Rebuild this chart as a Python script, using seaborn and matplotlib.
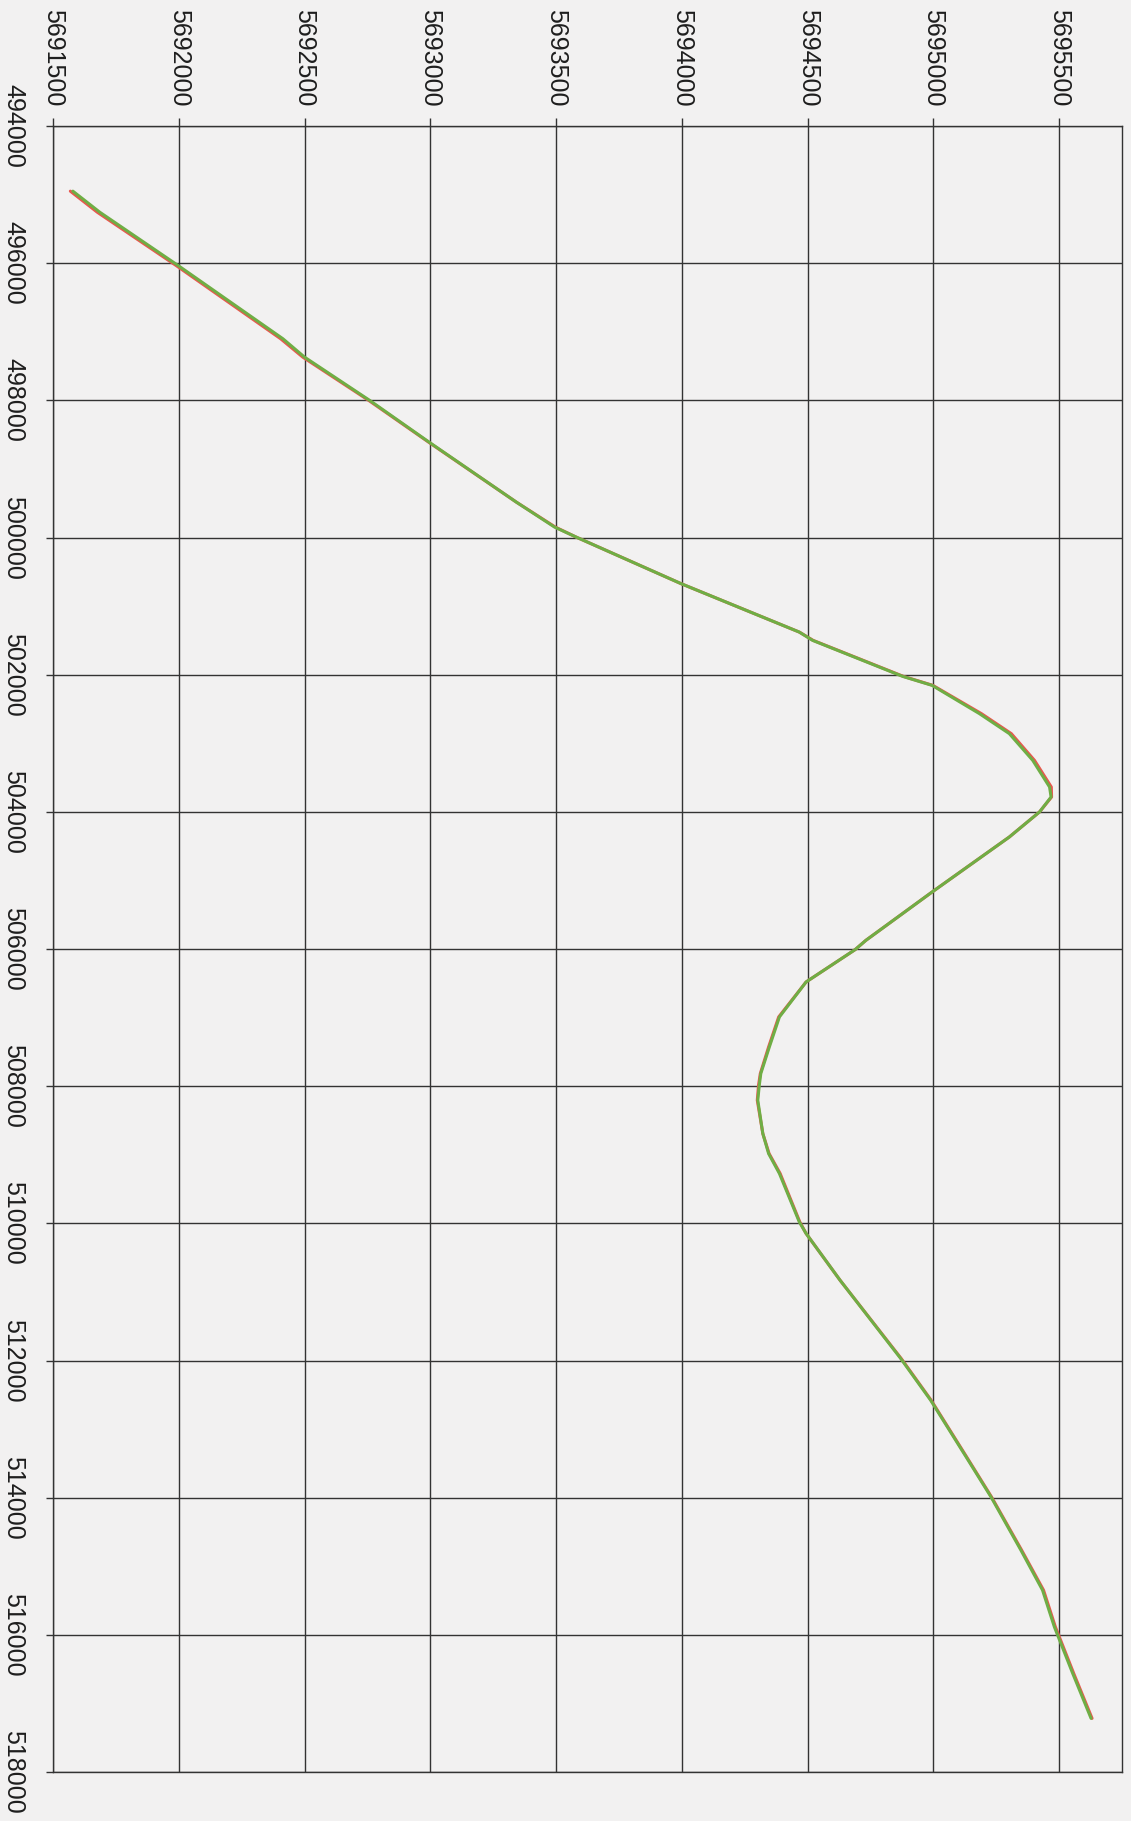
import pandas as pd
import matplotlib
matplotlib.use('Agg')
import matplotlib.pyplot as plt
import seaborn as sns

# track points: easting runs down the page, northing across
easting_green = [494950, 495257, 496033, 497102, 497370, 498001, 498609, 499484, 499848, 499994,
                 500673, 501379, 501500, 502025, 502156, 502568, 502860, 503249, 503638, 503784,
                 504002, 504367, 505169, 505873, 506009, 506481, 506991, 507428, 507816, 507986,
                 508205, 508691, 508983, 509274, 509979, 510148, 510829, 511970, 512578, 513404,
                 513988, 514765, 515348, 515883, 516562, 517218]
northing_green = [5691579, 5691686, 5691997, 5692414, 5692500, 5692759, 5692995, 5693342, 5693494, 5693580,
                  5693997, 5694467, 5694520, 5694878, 5694995, 5695183, 5695302, 5695395, 5695462, 5695468,
                  5695422, 5695302, 5694995, 5694732, 5694689, 5694494, 5694388, 5694348, 5694314, 5694308,
                  5694302, 5694322, 5694345, 5694388, 5694467, 5694494, 5694629, 5694870, 5694989, 5695130,
                  5695229, 5695348, 5695434, 5695481, 5695554, 5695627]

easting_red = easting_green
northing_red = [5691569, 5691676, 5691989, 5692405, 5692493, 5692755, 5692993, 5693342, 5693497, 5693580,
                5693997, 5694467, 5694522, 5694881, 5694998, 5695191, 5695310, 5695402, 5695469, 5695470,
                5695422, 5695302, 5694995, 5694732, 5694689, 5694494, 5694385, 5694345, 5694312, 5694305,
                5694300, 5694322, 5694347, 5694391, 5694469, 5694494, 5694629, 5694872, 5694991, 5695132,
                5695231, 5695351, 5695438, 5695485, 5695558, 5695631]

x_ticks = [5691500, 5692000, 5692500, 5693000, 5693500, 5694000, 5694500, 5695000, 5695500]
y_ticks = [494000, 496000, 498000, 500000, 502000, 504000, 506000, 508000, 510000, 512000,
           514000, 516000, 518000]

df = pd.concat([
    pd.DataFrame({'northing': northing_red, 'easting': easting_red, 'track': 'red'}),
    pd.DataFrame({'northing': northing_green, 'easting': easting_green, 'track': 'green'}),
])

sns.set_theme(style='ticks')
plt.rcParams['font.family'] = ['Liberation Sans', 'DejaVu Sans']

bg = '#f2f1f1'
fig = plt.figure(figsize=(11.31, 18.21), dpi=100, facecolor=bg)
ax = fig.add_axes([53 / 1131, 1 - 1772 / 1821, 1069 / 1131, 1646 / 1821])
ax.set_facecolor(bg)

sns.lineplot(data=df, x='northing', y='easting', hue='track', sort=False, estimator=None,
             palette={'red': '#e8574f', 'green': '#6fae45'}, linewidth=2.2, legend=False, ax=ax)

ax.set_xlim(5691500, 5695750)
ax.set_ylim(518000, 494000)
ax.set_xticks(x_ticks)
ax.set_yticks(y_ticks)
ax.set_xticklabels([str(v) for v in x_ticks])
ax.set_yticklabels([str(v) for v in y_ticks])
ax.xaxis.tick_top()
ax.set_xlabel('')
ax.set_ylabel('')

ax.grid(True, color='#333333', linewidth=1.0)
for s in ax.spines.values():
    s.set_color('#333333')
    s.set_linewidth(1.0)

ax.tick_params(axis='x', which='both', top=True, bottom=False, direction='out', length=6,
               width=1.0, color='#333333', labelsize=18, labelcolor='#1e1e1e',
               labelrotation=-90, pad=8)
ax.tick_params(axis='y', which='both', left=True, right=False, direction='out', length=5,
               width=1.0, color='#333333', labelsize=18, labelcolor='#1e1e1e',
               labelrotation=-90, pad=15)
for lab in ax.get_yticklabels():
    lab.set_verticalalignment('center')

plt.savefig('out.png', dpi=100, facecolor=bg)
